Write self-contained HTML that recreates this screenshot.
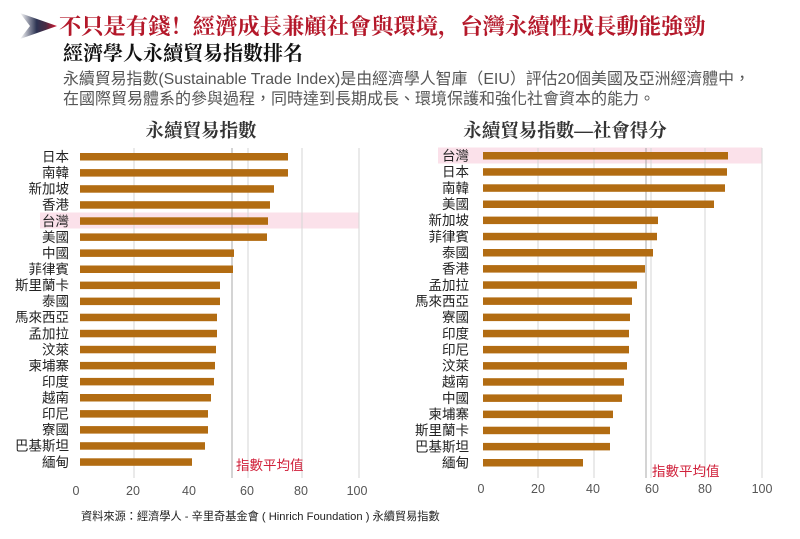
<!DOCTYPE html>
<html><head><meta charset="utf-8">
<style>
html,body{margin:0;padding:0;background:#fff;}
svg{display:block;}
.t{font-family:"Liberation Serif","Noto Serif CJK SC",serif;font-weight:bold;}
.s{font-family:"Liberation Sans","Noto Sans CJK TC",sans-serif;}
</style></head>
<body>
<svg width="800" height="539" viewBox="0 0 800 539" xmlns="http://www.w3.org/2000/svg">
<defs>
<linearGradient id="ag" x1="0" y1="0" x2="1" y2="0">
<stop offset="0" stop-color="#ffffff"/>
<stop offset="0.45" stop-color="#2c3352"/>
<stop offset="0.7" stop-color="#4a2c44"/>
<stop offset="1" stop-color="#d8142e"/>
</linearGradient>
</defs>
<rect width="800" height="539" fill="#fff"/>
<!-- header -->
<polygon points="20,13 57,26 20,39 30,26" fill="url(#ag)"/>
<text x="59" y="34" class="t" font-size="22.3" fill="#b4182a">不只是有錢！經濟成長兼顧社會與環境，台灣永續性成長動能強勁</text>
<text x="63" y="60" class="t" font-size="20" fill="#111">經濟學人永續貿易指數排名</text>
<text x="63" y="84" class="s" font-size="15.9" fill="#555">永續貿易指數(Sustainable Trade Index)是由經濟學人智庫（EIU）評估20個美國及亞洲經濟體中，</text>
<text x="63" y="104" class="s" font-size="16" fill="#555">在國際貿易體系的參與過程，同時達到長期成長、環境保護和強化社會資本的能力。</text>

<!-- chart titles -->
<text x="201" y="137" class="t" font-size="18.5" fill="#333" text-anchor="middle">永續貿易指數</text>
<text x="565" y="137" class="t" font-size="18.5" fill="#333" text-anchor="middle">永續貿易指數—社會得分</text>

<!-- LEFT CHART -->
<rect x="40" y="212.5" width="319" height="16" fill="#fbe1ea"/>
<g stroke="#d6d6d6" stroke-width="1">
<line x1="134" y1="148" x2="134" y2="478"/>
<line x1="248" y1="148" x2="248" y2="478"/>
<line x1="302" y1="148" x2="302" y2="478"/>
<line x1="359" y1="148" x2="359" y2="478"/>
</g>
<line x1="232" y1="148" x2="232" y2="478" stroke="#a8a8a8" stroke-width="1"/>
<g fill="#b26c12">
<rect x="80" y="153.0" width="208" height="7.5"/>
<rect x="80" y="169.1" width="208" height="7.5"/>
<rect x="80" y="185.2" width="194" height="7.5"/>
<rect x="80" y="201.2" width="190" height="7.5"/>
<rect x="80" y="217.3" width="188" height="7.5"/>
<rect x="80" y="233.4" width="187" height="7.5"/>
<rect x="80" y="249.4" width="154" height="7.5"/>
<rect x="80" y="265.5" width="153" height="7.5"/>
<rect x="80" y="281.6" width="140" height="7.5"/>
<rect x="80" y="297.6" width="140" height="7.5"/>
<rect x="80" y="313.7" width="137" height="7.5"/>
<rect x="80" y="329.8" width="137" height="7.5"/>
<rect x="80" y="345.8" width="136" height="7.5"/>
<rect x="80" y="361.9" width="135" height="7.5"/>
<rect x="80" y="377.9" width="134" height="7.5"/>
<rect x="80" y="394.0" width="131" height="7.5"/>
<rect x="80" y="410.1" width="128" height="7.5"/>
<rect x="80" y="426.1" width="128" height="7.5"/>
<rect x="80" y="442.2" width="125" height="7.5"/>
<rect x="80" y="458.3" width="112" height="7.5"/>
</g>
<g class="s" font-size="13.5" fill="#222" text-anchor="end">
<text x="69" y="161.5">日本</text>
<text x="69" y="177.6">南韓</text>
<text x="69" y="193.7">新加坡</text>
<text x="69" y="209.7">香港</text>
<text x="69" y="225.8">台灣</text>
<text x="69" y="241.9">美國</text>
<text x="69" y="257.9">中國</text>
<text x="69" y="274.0">菲律賓</text>
<text x="69" y="290.1">斯里蘭卡</text>
<text x="69" y="306.1">泰國</text>
<text x="69" y="322.2">馬來西亞</text>
<text x="69" y="338.3">孟加拉</text>
<text x="69" y="354.3">汶萊</text>
<text x="69" y="370.4">柬埔寨</text>
<text x="69" y="386.4">印度</text>
<text x="69" y="402.5">越南</text>
<text x="69" y="418.6">印尼</text>
<text x="69" y="434.6">寮國</text>
<text x="69" y="450.7">巴基斯坦</text>
<text x="69" y="466.8">緬甸</text>
</g>
<text x="236" y="470" class="s" font-size="13.5" fill="#d0203a">指數平均值</text>
<g class="s" font-size="12.5" fill="#555" text-anchor="middle">
<text x="76" y="495">0</text>
<text x="133" y="495">20</text>
<text x="189" y="495">40</text>
<text x="247" y="495">60</text>
<text x="301" y="495">80</text>
<text x="357" y="495">100</text>
</g>

<!-- RIGHT CHART -->
<rect x="438" y="147.5" width="324" height="16" fill="#fbe1ea"/>
<g stroke="#d6d6d6" stroke-width="1">
<line x1="538" y1="148" x2="538" y2="478"/>
<line x1="594" y1="148" x2="594" y2="478"/>
<line x1="651" y1="148" x2="651" y2="478"/>
<line x1="705" y1="148" x2="705" y2="478"/>
<line x1="762" y1="148" x2="762" y2="478"/>
</g>
<line x1="646" y1="148" x2="646" y2="478" stroke="#a8a8a8" stroke-width="1"/>
<g fill="#b26c12">
<rect x="483" y="152.0" width="245" height="7.5"/>
<rect x="483" y="168.2" width="244" height="7.5"/>
<rect x="483" y="184.3" width="242" height="7.5"/>
<rect x="483" y="200.5" width="231" height="7.5"/>
<rect x="483" y="216.6" width="175" height="7.5"/>
<rect x="483" y="232.8" width="174" height="7.5"/>
<rect x="483" y="249.0" width="170" height="7.5"/>
<rect x="483" y="265.1" width="162" height="7.5"/>
<rect x="483" y="281.3" width="154" height="7.5"/>
<rect x="483" y="297.4" width="149" height="7.5"/>
<rect x="483" y="313.6" width="147" height="7.5"/>
<rect x="483" y="329.8" width="146" height="7.5"/>
<rect x="483" y="345.9" width="146" height="7.5"/>
<rect x="483" y="362.1" width="144" height="7.5"/>
<rect x="483" y="378.2" width="141" height="7.5"/>
<rect x="483" y="394.4" width="139" height="7.5"/>
<rect x="483" y="410.6" width="130" height="7.5"/>
<rect x="483" y="426.7" width="127" height="7.5"/>
<rect x="483" y="442.9" width="127" height="7.5"/>
<rect x="483" y="459.0" width="100" height="7.5"/>
</g>
<g class="s" font-size="13.5" fill="#222" text-anchor="end">
<text x="469" y="160.5">台灣</text>
<text x="469" y="176.7">日本</text>
<text x="469" y="192.8">南韓</text>
<text x="469" y="209.0">美國</text>
<text x="469" y="225.1">新加坡</text>
<text x="469" y="241.3">菲律賓</text>
<text x="469" y="257.5">泰國</text>
<text x="469" y="273.6">香港</text>
<text x="469" y="289.8">孟加拉</text>
<text x="469" y="305.9">馬來西亞</text>
<text x="469" y="322.1">寮國</text>
<text x="469" y="338.3">印度</text>
<text x="469" y="354.4">印尼</text>
<text x="469" y="370.6">汶萊</text>
<text x="469" y="386.7">越南</text>
<text x="469" y="402.9">中國</text>
<text x="469" y="419.1">柬埔寨</text>
<text x="469" y="435.2">斯里蘭卡</text>
<text x="469" y="451.4">巴基斯坦</text>
<text x="469" y="467.5">緬甸</text>
</g>
<text x="652" y="476" class="s" font-size="13.5" fill="#d0203a">指數平均值</text>
<g class="s" font-size="12.5" fill="#555" text-anchor="middle">
<text x="481" y="493">0</text>
<text x="538" y="493">20</text>
<text x="593" y="493">40</text>
<text x="652" y="493">60</text>
<text x="705" y="493">80</text>
<text x="762" y="493">100</text>
</g>

<!-- source -->
<text x="81" y="520" class="s" font-size="11.2" fill="#222">資料來源：經濟學人 - 辛里奇基金會 ( Hinrich Foundation ) 永續貿易指數</text>
</svg>
</body></html>
